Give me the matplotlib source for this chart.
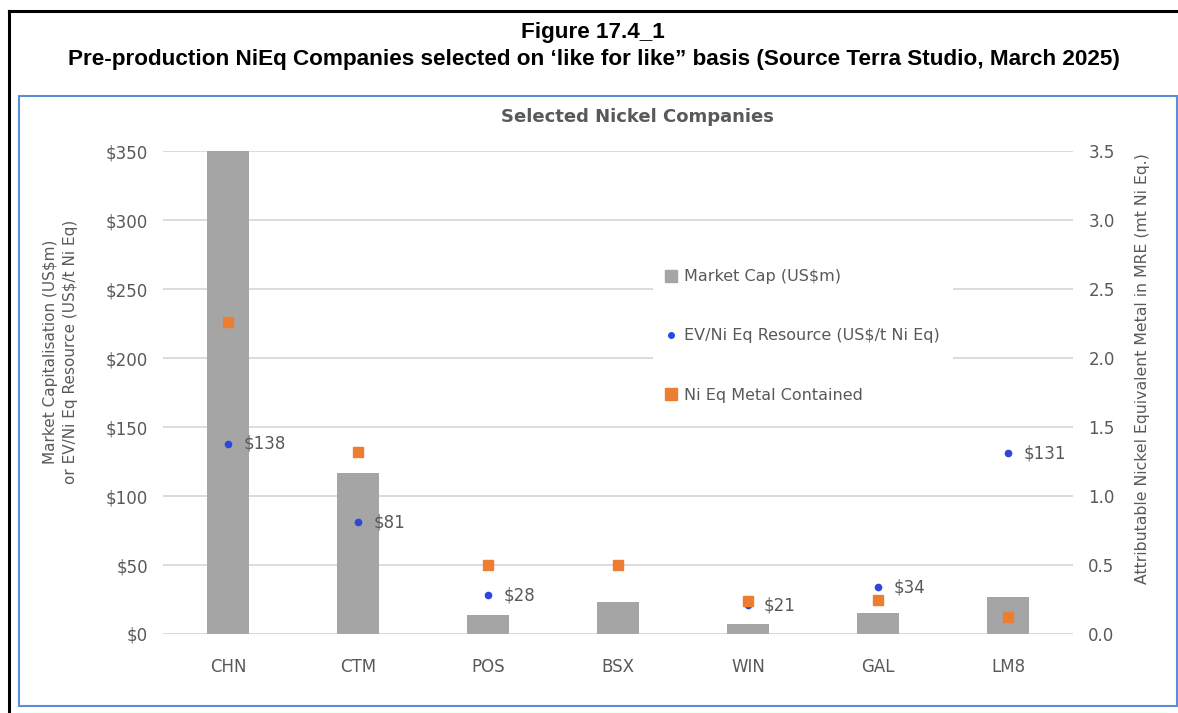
import numpy as np
import matplotlib.pyplot as plt
from matplotlib.lines import Line2D

# Selected nickel companies
tickers = ["CHN", "CTM", "POS", "BSX", "WIN", "GAL", "LM8"]
market_cap = [380, 117, 14, 23, 7, 15, 27]                 # US$m
ev_per_t = [138, 81, 28, np.nan, 21, 34, 131]              # US$/t Ni Eq
ni_eq_metal = [2.26, 1.32, 0.50, 0.50, 0.24, 0.25, 0.12]   # mt Ni Eq

GRAY_TXT = "#595959"
BAR = "#a5a5a5"
BLUE = "#2f45dd"
ORANGE = "#ed7d31"
GRID = "#d9d9d9"
FONT = "DejaVu Sans"

fig = plt.figure(figsize=(11.78, 7.13), dpi=100)
ax = fig.add_axes([0.1384, 0.1108, 0.7725, 0.6774])
ax2 = ax.twinx()

x = np.arange(len(tickers))
ax.bar(x, market_cap, width=0.32, color=BAR, zorder=2)
ax.plot(x, ev_per_t, "o", ms=4.5, color=BLUE, ls="none", zorder=3)
for xi, v in zip(x, ev_per_t):
    if not np.isnan(v):
        ax.annotate(f"${v:.0f}", (xi, v), xytext=(11.5, 0), textcoords="offset points",
                    va="center", ha="left", fontsize=12, color=GRAY_TXT, family=FONT)
ax2.plot(x, ni_eq_metal, "s", ms=7.5, color=ORANGE, ls="none", zorder=4)

ax.set_xlim(-0.5, len(tickers) - 0.5)
ax.set_ylim(0, 350)
ax2.set_ylim(0, 3.5)
ax.set_yticks(np.arange(0, 351, 50))
ax.set_yticklabels([f"${t}" for t in range(0, 351, 50)])
ax2.set_yticks(np.arange(0, 3.51, 0.5))
ax2.set_yticklabels([f"{t:.1f}" for t in np.arange(0, 3.51, 0.5)])
ax.set_xticks(x)
ax.set_xticklabels(tickers)

ax.yaxis.grid(True, color=GRID, lw=1.3, zorder=0)
ax.set_axisbelow(True)
for a in (ax, ax2):
    for s in a.spines.values():
        s.set_visible(False)
    a.tick_params(length=0, colors=GRAY_TXT, labelsize=12)
    for lbl in a.get_xticklabels() + a.get_yticklabels():
        lbl.set_family(FONT)
ax.tick_params(axis="y", pad=11)
ax.tick_params(axis="x", pad=17)
ax2.tick_params(axis="y", pad=11)
ax.axhline(0, color=GRID, lw=1.3, zorder=1)

ax.set_ylabel("Market Capitalisation (US$m)\nor EV/Ni Eq Resource (US$/t Ni Eq)",
              fontsize=11, color=GRAY_TXT, family=FONT, linespacing=1.45)
ax.yaxis.set_label_coords(-0.093, 0.585)
ax2.set_ylabel("Attributable Nickel Equivalent Metal in MRE (mt Ni Eq.)",
               fontsize=11.3, color=GRAY_TXT, family=FONT)
ax2.yaxis.set_label_coords(1.068, 0.55)

handles = [
    Line2D([], [], marker="s", ms=8, color=BAR, ls="none"),
    Line2D([], [], marker="o", ms=4, color=BLUE, ls="none"),
    Line2D([], [], marker="s", ms=8, color=ORANGE, ls="none"),
]
labels = ["Market Cap (US$m)", "EV/Ni Eq Resource (US$/t Ni Eq)", "Ni Eq Metal Contained"]
leg = ax2.legend(handles, labels, loc="center left", bbox_to_anchor=(0.53, 0.617),
                 frameon=True, framealpha=1, edgecolor="none", fancybox=False,
                 prop={"family": FONT, "size": 11.5}, labelspacing=2.78,
                 handlelength=0.6, handletextpad=0.55, borderpad=0.8)
for t in leg.get_texts():
    t.set_color(GRAY_TXT)
leg.set_zorder(5)

# chart title and figure caption
fig.text(0.541, 0.836, "Selected Nickel Companies", ha="center", va="center",
         fontsize=13, fontweight="bold", color=GRAY_TXT, family=FONT)
fig.text(0.503, 0.955, "Figure 17.4_1", ha="center", va="center",
         fontsize=16.2, fontweight="bold", color="black", family="Liberation Sans")
fig.text(0.504, 0.917,
         "Pre-production NiEq Companies selected on \u2018like for like\u201d basis (Source Terra Studio, March 2025)",
         ha="center", va="center", fontsize=16.2, fontweight="bold", color="black",
         family="Liberation Sans")

# frames around the figure and the chart area
fig.add_artist(Line2D([0.0076, 1.0], [0.9846, 0.9846], color="black", lw=2.2))
fig.add_artist(Line2D([0.0076, 0.0076], [0.0, 0.9846], color="black", lw=2.2))
fig.add_artist(plt.Rectangle((0.0161, 0.0098), 0.9831, 0.8556, fill=False,
                             edgecolor="#5b8ed6", lw=1.5, transform=fig.transFigure))

fig.savefig("out.png", dpi=100)
